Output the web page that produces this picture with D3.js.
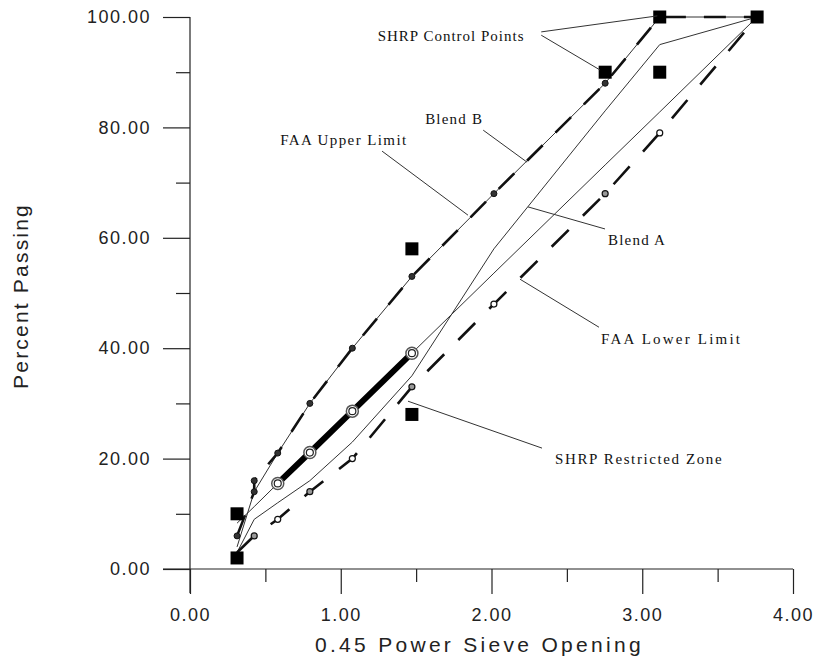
<!DOCTYPE html>
<html>
<head>
<meta charset="utf-8">
<script src="https://cdn.jsdelivr.net/npm/d3@7"></script>
<style>
  body { margin: 0; background: #fff; }
</style>
</head>
<body>
<svg width="817" height="658"></svg>
<script>
// sieve sizes raised to the 0.45 power
const sieveX = [0.312, 0.426, 0.582, 0.795, 1.077, 1.472, 2.016, 2.754, 3.116, 3.762];

const upperX = [0.312, 0.426, 0.426, 0.582, 0.795, 1.077, 1.472, 2.016, 2.754, 3.116, 3.762];
const upperY = [6, 14, 16, 21, 30, 40, 53, 68, 88, 100, 100];
const lowerY = [3, 6, 9, 14, 20, 33, 48, 68, 79, 100];
const blendA = [3, 9, 12, 16, 23, 35, 58, 83, 95, 100];
const blendB = [4, 14, 21, 30, 40, 53, 68, 88, 100, 100];
const maxDensity = [8.3, 11.3, 15.5, 21.1, 28.6, 39.1, 53.6, 73.2, 82.8, 100];

const restrictedX = [0.582, 0.795, 1.077, 1.472];
const restrictedY = [15.5, 21.1, 28.6, 39.1];

const controlX = [0.312, 0.312, 1.472, 1.472, 2.754, 3.116, 3.116, 3.762];
const controlY = [2, 10, 28, 58, 90, 90, 100, 100];

const xMajor = [0, 1, 2, 3, 4];
const xMinor = [0.5, 1.5, 2.5, 3.5];
const yMajor = [0, 20, 40, 60, 80, 100];
const yMinor = [10, 30, 50, 70, 90];

// callouts: label anchor and where the leader line ends (data units)
const notes = [
  { text: 'SHRP Control Points', lx: 1.245, ly: 96.5, ls: 1,
    leaders: [[2.330, 97.3, 3.100, 100.2], [2.330, 96.7, 2.720, 90.4]] },
  { text: 'Blend B', lx: 1.56, ly: 81.5, ls: 1.2,
    leaders: [[1.945, 79.5, 2.236, 73.7]] },
  { text: 'FAA Upper Limit', lx: 0.598, ly: 77.7, ls: 1.4,
    leaders: [[1.274, 75.7, 1.844, 64.1]] },
  { text: 'Blend A', lx: 2.773, ly: 59.6, ls: 1.2,
    leaders: [[2.753, 61.6, 2.242, 65.6]] },
  { text: 'FAA Lower Limit', lx: 2.727, ly: 41.7, ls: 2.2,
    leaders: [[2.713, 43.8, 2.189, 52.5]] },
  { text: 'SHRP Restricted Zone', lx: 2.422, ly: 20.0, ls: 1.6,
    leaders: [[2.335, 21.9, 1.446, 30.4]] }
];

const svg = d3.select('svg');

const x = d3.scaleLinear().domain([0, 4]).range([190, 793]);
const y = d3.scaleLinear().domain([0, 100]).range([569, 17]);

const ink = '#222';
const axisFont = '"Liberation Sans", Arial, sans-serif';
const noteFont = '"Liberation Serif", "Times New Roman", serif';

// AXES
svg.append('line')
    .attr('x1', x(0)).attr('x2', x(0))
    .attr('y1', y(100)).attr('y2', y(0) + 24)
    .attr('stroke', ink).attr('stroke-width', 1.2);
svg.append('line')
    .attr('x1', x(0) - 27).attr('x2', x(4))
    .attr('y1', y(0)).attr('y2', y(0))
    .attr('stroke', ink).attr('stroke-width', 1.2);

const yAxisMajor = svg.append('g')
    .attr('transform', `translate(${x(0)},0)`)
    .call(d3.axisLeft(y).tickValues(yMajor).tickSize(27).tickPadding(12)
      .tickFormat(d3.format('.2f')));
const yAxisMinor = svg.append('g')
    .attr('transform', `translate(${x(0)},0)`)
    .call(d3.axisLeft(y).tickValues(yMinor).tickSize(14).tickFormat(''));
const xAxisMajor = svg.append('g')
    .attr('transform', `translate(0,${y(0)})`)
    .call(d3.axisBottom(x).tickValues(xMajor).tickSize(25).tickPadding(14)
      .tickFormat(d3.format('.2f')));
const xAxisMinor = svg.append('g')
    .attr('transform', `translate(0,${y(0)})`)
    .call(d3.axisBottom(x).tickValues(xMinor).tickSize(13).tickFormat(''));

svg.selectAll('.domain').remove();
svg.selectAll('.tick line').attr('stroke', ink).attr('stroke-width', 1.2);
svg.selectAll('.tick text')
    .attr('fill', '#222')
    .style('font-family', axisFont)
    .style('font-size', '18px')
    .style('letter-spacing', '1.5px');

svg.append('text')
    .attr('transform', `translate(28,${y(50) + 3}) rotate(-90)`)
    .attr('text-anchor', 'middle')
    .attr('fill', '#222')
    .style('font-family', axisFont)
    .style('font-size', '21px')
    .style('letter-spacing', '2.2px')
    .text('Percent Passing');

svg.append('text')
    .attr('x', x(1.92))
    .attr('y', 652)
    .attr('text-anchor', 'middle')
    .attr('fill', '#222')
    .style('font-family', axisFont)
    .style('font-size', '21px')
    .style('letter-spacing', '3.3px')
    .text('0.45 Power Sieve Opening');

// LINES
const line = d3.line().x(d => x(d[0])).y(d => y(d[1]));
const pairs = (xs, ys) => xs.map((v, i) => [v, ys[i]]);

const thin = [pairs(sieveX, blendA), pairs(sieveX, blendB), pairs(sieveX, maxDensity)];
svg.selectAll('path.blend')
  .data(thin)
  .join('path')
    .attr('class', 'blend')
    .attr('d', line)
    .attr('fill', 'none')
    .attr('stroke', '#333')
    .attr('stroke-width', 1);

// FAA limits, long dashes
svg.append('path')
    .attr('d', line(pairs(upperX, upperY)))
    .attr('fill', 'none')
    .attr('stroke', '#111')
    .attr('stroke-width', 2.6)
    .attr('stroke-dasharray', '22,18');
svg.append('path')
    .attr('d', line(pairs(sieveX, lowerY)))
    .attr('fill', 'none')
    .attr('stroke', '#111')
    .attr('stroke-width', 2.6)
    .attr('stroke-dasharray', '24,20');

svg.selectAll('circle.upper')
  .data(pairs(upperX, upperY).slice(0, 9))
  .join('circle')
    .attr('class', 'upper')
    .attr('cx', d => x(d[0]))
    .attr('cy', d => y(d[1]))
    .attr('r', 3)
    .attr('fill', '#333')
    .attr('stroke', '#111')
    .attr('stroke-width', 1);

svg.selectAll('circle.lower')
  .data(pairs(sieveX, lowerY).slice(1, 9))
  .join('circle')
    .attr('class', 'lower')
    .attr('cx', d => x(d[0]))
    .attr('cy', d => y(d[1]))
    .attr('r', 3)
    .attr('fill', (d, i) => i % 2 ? '#fff' : '#999')
    .attr('stroke', '#111')
    .attr('stroke-width', 1.2);

// restricted zone
const zone = pairs(restrictedX, restrictedY);
svg.append('path')
    .attr('d', line(zone))
    .attr('fill', 'none')
    .attr('stroke', '#000')
    .attr('stroke-width', 6);
svg.selectAll('circle.zone')
  .data(zone)
  .join('circle')
    .attr('class', 'zone')
    .attr('cx', d => x(d[0]))
    .attr('cy', d => y(d[1]))
    .attr('r', 6)
    .attr('fill', '#fff')
    .attr('stroke', '#555')
    .attr('stroke-width', 1.5);
svg.selectAll('circle.zoneIn')
  .data(zone)
  .join('circle')
    .attr('class', 'zoneIn')
    .attr('cx', d => x(d[0]))
    .attr('cy', d => y(d[1]))
    .attr('r', 3.5)
    .attr('fill', 'none')
    .attr('stroke', '#222')
    .attr('stroke-width', 1.2);

// SHRP control points
svg.selectAll('rect.control')
  .data(pairs(controlX, controlY))
  .join('rect')
    .attr('class', 'control')
    .attr('x', d => x(d[0]) - 6.5)
    .attr('y', d => y(d[1]) - 6.5)
    .attr('width', 13)
    .attr('height', 13)
    .attr('fill', '#000');

// CALLOUTS
notes.forEach(n => {
  n.leaders.forEach(l => {
    svg.append('line')
        .attr('x1', x(l[0])).attr('y1', y(l[1]))
        .attr('x2', x(l[2])).attr('y2', y(l[3]))
        .attr('stroke', '#333')
        .attr('stroke-width', 1);
  });
  svg.append('text')
      .attr('x', x(n.lx))
      .attr('y', y(n.ly) + 5)
      .attr('fill', '#111')
      .style('font-family', noteFont)
      .style('font-size', '15px')
      .style('letter-spacing', n.ls + 'px')
      .text(n.text);
});
</script>
</body>
</html>
